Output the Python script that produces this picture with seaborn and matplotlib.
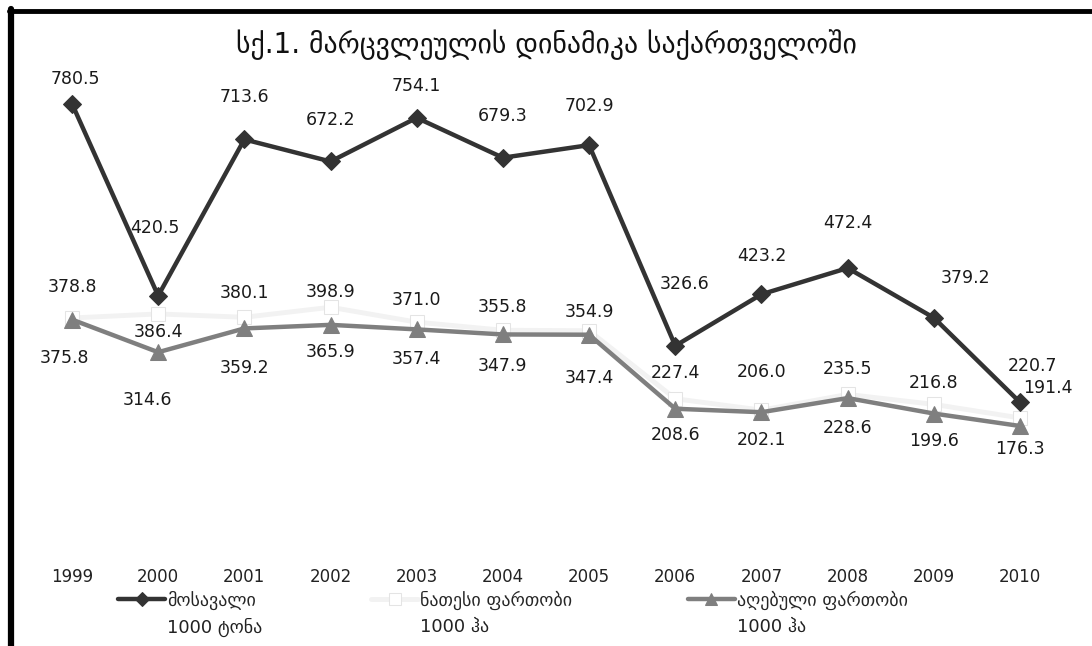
import numpy as np
import pandas as pd
import matplotlib
matplotlib.use("Agg")
import matplotlib.pyplot as plt
from matplotlib.lines import Line2D
import seaborn as sns

# data
years = ["1999", "2000", "2001", "2002", "2003", "2004", "2005", "2006", "2007", "2008", "2009", "2010"]
harvest = [780.5, 420.5, 713.6, 672.2, 754.1, 679.3, 702.9, 326.6, 423.2, 472.4, 379.2, 220.7]
sown_area = [378.8, 386.4, 380.1, 398.9, 371.0, 355.8, 354.9, 227.4, 206.0, 235.5, 216.8, 191.4]
harvested_area = [375.8, 314.6, 359.2, 365.9, 357.4, 347.9, 347.4, 208.6, 202.1, 228.6, 199.6, 176.3]

names = ["მოსავალი", "ნათესი ფართობი", "აღებული ფართობი"]
units = ["1000 ტონა", "1000 ჰა", "1000 ჰა"]
title = "სქ.1. მარცვლეულის დინამიკა საქართველოში"

# label offsets in pixels (dx, dy), as placed in the original
off_harvest = [(3, 25), (-3, 68), (0, 42), (0, 41), (0, 32), (0, 42), (0, 39), (9, 62), (0, 38), (0, 45), (32, 40), (12, 36)]
off_sown = [(0, 31), (0, -18), (0, 24), (0, 15), (0, 22), (0, 23), (0, 19), (0, 26), (0, 38), (0, 25), (0, 21), (28, 30)]
off_harv_area = [(-8, -38), (-11, -48), (0, -40), (0, -27), (0, -30), (0, -32), (0, -43), (0, -26), (0, -28), (0, -30), (0, -27), (0, -23)]

df = pd.DataFrame({"x": np.arange(len(years)), "harvest": harvest,
                   "sown": sown_area, "harv": harvested_area})

sns.set_style("white")
plt.rcParams["font.family"] = ["DejaVu Sans"]

fig = plt.figure(figsize=(10.92, 6.46), dpi=100)
ax = fig.add_axes([28.9 / 1092, 1 - 520 / 646, (1063.1 - 28.9) / 1092, 480 / 646])

sns.lineplot(data=df, x="x", y="harvest", ax=ax, color="#333333", lw=3.2,
             marker="D", markersize=9, markeredgecolor="#333333", label=names[0], zorder=4)
sns.lineplot(data=df, x="x", y="sown", ax=ax, color="#f2f2f2", lw=3.5,
             marker="s", markersize=10, markerfacecolor="white", markeredgecolor="#e4e4e4",
             label=names[1], zorder=2)
sns.lineplot(data=df, x="x", y="harv", ax=ax, color="#7f7f7f", lw=3.2,
             marker="^", markersize=11, markeredgecolor="#7f7f7f", label=names[2], zorder=3)

for col, offs in [("harvest", off_harvest), ("sown", off_sown), ("harv", off_harv_area)]:
    for xi, v, (dx, dy) in zip(df["x"], df[col], offs):
        ax.annotate(f"{v:.1f}", (xi, v), xytext=(dx, dy), textcoords="offset pixels",
                    ha="center", va="center", fontsize=12.5, color="#1a1a1a", zorder=5)

ax.set_xlim(-0.5, len(years) - 0.5)
ax.set_ylim(0, 900)
ax.set_xticks(df["x"])
ax.set_xticklabels(years, fontsize=12, color="#222222")
ax.tick_params(axis="x", length=0, pad=34.5)
ax.set_yticks([])
ax.set_xlabel("")
ax.set_ylabel("")
for s in ax.spines.values():
    s.set_visible(False)

ax.get_legend().remove()
handles, labels = ax.get_legend_handles_labels()
leg = fig.legend(handles, labels, loc="center left", bbox_to_anchor=(111 / 1092, 1 - 600 / 646),
                 ncol=3, frameon=False, fontsize=13, handlelength=2.6, handletextpad=0.1,
                 columnspacing=6.4, borderaxespad=0, markerscale=0.8)
fig.canvas.draw()
for txt, u in zip(leg.get_texts(), units):
    bb = txt.get_window_extent()
    fig.text(bb.x0 / 1092, (bb.y0 - 8) / 646, u, ha="left", va="top",
             fontsize=13, color="#222222")

fig.text(0.5, 1 - 45 / 646, title, ha="center", va="center", fontsize=20, color="#111111")

# frame of the original picture
fig.add_artist(Line2D([11 / 1092, 11 / 1092], [0, 1 - 9 / 646], transform=fig.transFigure,
                      color="black", lw=4.5))
fig.add_artist(Line2D([9 / 1092, 1], [1 - 11 / 646, 1 - 11 / 646], transform=fig.transFigure,
                      color="black", lw=3.5))

fig.savefig("out.png", dpi=100)
